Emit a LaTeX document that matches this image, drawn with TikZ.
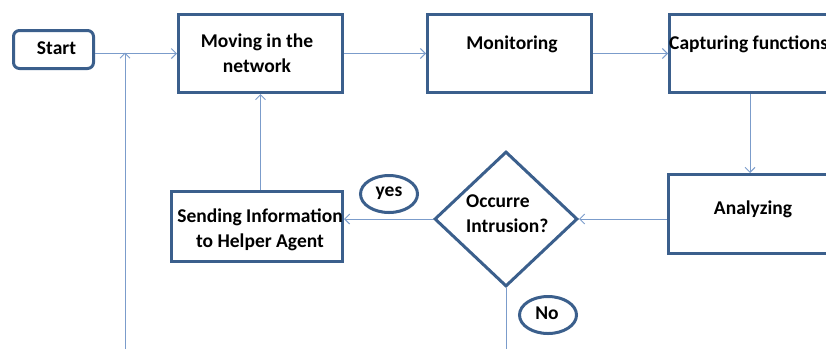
\documentclass[tikz,border=0pt]{standalone}
\usepackage{fontspec}
\setmainfont{Carlito}
\usetikzlibrary{shapes.geometric,arrows.meta}
\definecolor{boxc}{HTML}{3B5F8C}
\definecolor{linec}{HTML}{7B9CCB}
\begin{document}
\begin{tikzpicture}[x=1pt,y=-1pt,
  box/.style={draw=boxc,line width=3pt,inner sep=0pt},
  txt/.style={font=\fontsize{19.5}{25}\selectfont\bfseries,inner sep=0pt,align=center},
  conn/.style={draw=linec,line width=1pt},
  arr/.style={conn,-{Straight Barb[length=5pt,width=10pt,line width=1pt]}}]
\useasboundingbox (0,0) rectangle (826,349);
\clip (0,0) rectangle (826,349);
% shapes
\node[box,rounded corners=6pt,minimum width=80,minimum height=38] (start) at (53.5,49.5) {};
\node[box,minimum width=164,minimum height=78] (moving) at (260.5,53.5) {};
\node[box,minimum width=164,minimum height=78] (monitor) at (509.5,53.5) {};
\node[box,minimum width=164,minimum height=78] (capture) at (751.5,53.5) {};
\node[box,minimum width=164,minimum height=79] (analyze) at (750.5,214) {};
\node[box,minimum width=171,minimum height=70] (sending) at (257,226.5) {};
\node[box,diamond,minimum width=143,minimum height=135] (decide) at (506,219) {};
\node[box,ellipse,minimum width=57,minimum height=37] (yes) at (389,194) {};
\node[box,ellipse,minimum width=57,minimum height=37] (no) at (548,315) {};
% texts
\node[txt] (start-t) at (56.5,48) {Start};
\node[txt] (moving-t) at (257,53.5) {Moving in the\\network};
\node[txt] (monitor-t) at (512,44) {Monitoring};
\node[txt,anchor=west] (capture-t) at (669,44) {Capturing functions};
\node[txt] (analyze-t) at (753,209) {Analyzing};
\node[txt] (sending-t) at (260,230) {Sending Information\\to Helper Agent};
\node[txt,align=left,anchor=west] (decide-t) at (466,214) {Occurre\\Intrusion?};
\node[txt] (yes-t) at (389,193) {yes};
\node[txt] (no-t) at (547,313) {No};
% connectors
\coordinate (loopfoot) at (125,349);
\coordinate (nofoot) at (506,349);
\draw[arr] (start.east |- moving.west) -- (moving.west);
\draw[arr] (loopfoot) -- ([yshift=1pt]loopfoot |- moving.west);
\draw[arr] (moving.east) -- (monitor.west);
\draw[arr] (monitor.east) -- (capture.west);
\draw[arr] (capture.south -| 750,0) -- (analyze.north -| 750,0);
\draw[arr] (decide.east -| analyze.west) -- (decide.east);
\draw[arr] (decide.west) -- (decide.west -| sending.east);
\draw[arr] (moving.south |- sending.north) -- (moving.south);
\draw[conn] (decide.south) -- (nofoot);
\end{tikzpicture}
\end{document}
